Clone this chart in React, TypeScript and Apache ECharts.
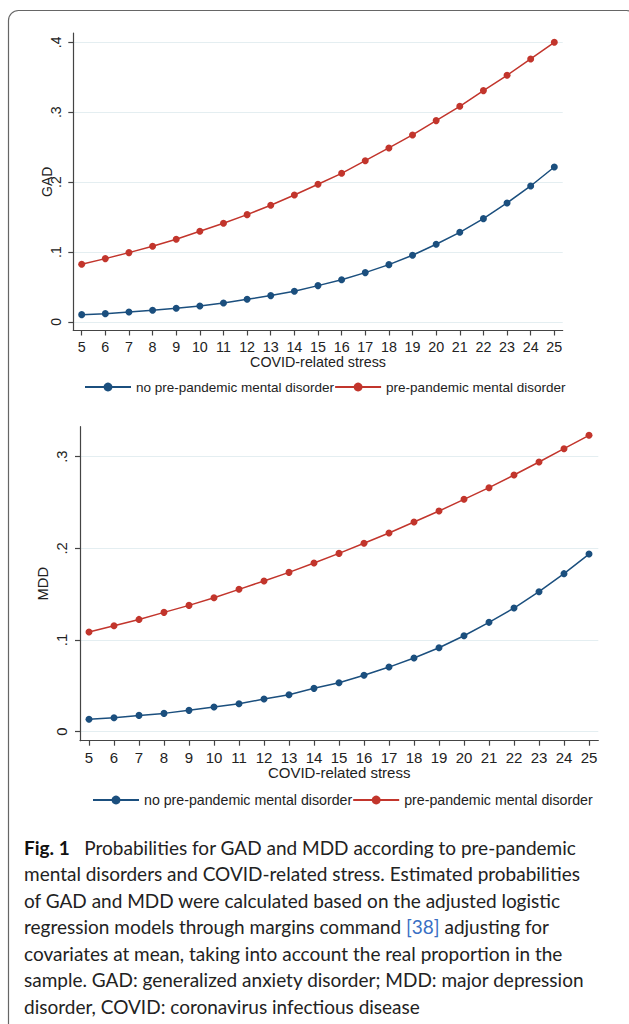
import React, { useEffect, useRef } from "react";
import * as echarts from "echarts";

const stress = [5, 6, 7, 8, 9, 10, 11, 12, 13, 14, 15, 16, 17, 18, 19, 20, 21, 22, 23, 24, 25];
const gadNo = [0.0105, 0.0119, 0.0143, 0.0167, 0.0195, 0.0229, 0.0272, 0.0324, 0.0377, 0.0439, 0.052, 0.0605, 0.0706, 0.082, 0.0954, 0.1111, 0.1282, 0.1478, 0.1702, 0.1945, 0.2217];
const gadPre = [0.0825, 0.0906, 0.0992, 0.1082, 0.1182, 0.1297, 0.1411, 0.1535, 0.1669, 0.1816, 0.1969, 0.2126, 0.2307, 0.2489, 0.2675, 0.288, 0.3085, 0.3309, 0.3528, 0.3762, 0.4];
const mddNo = [0.0135, 0.0153, 0.0178, 0.02, 0.0233, 0.0269, 0.0305, 0.0356, 0.0404, 0.0473, 0.0535, 0.0615, 0.0705, 0.0804, 0.0916, 0.1047, 0.1193, 0.1349, 0.1527, 0.1724, 0.1938];
const mddPre = [0.1087, 0.1156, 0.1225, 0.1302, 0.1378, 0.1462, 0.1553, 0.1644, 0.1738, 0.184, 0.1945, 0.2055, 0.2167, 0.2287, 0.2407, 0.2535, 0.2662, 0.28, 0.2942, 0.3087, 0.3233];
const gadTicks = [0, 0.1, 0.2, 0.3, 0.4];
const mddTicks = [0, 0.1, 0.2, 0.3];
const seriesNames = ["no pre-pandemic mental disorder", "pre-pandemic mental disorder"];
const xName = "COVID-related stress";
const captionLines = [
  "{b|Fig. 1}   Probabilities for GAD and MDD according to pre-pandemic",
  "mental disorders and COVID-related stress. Estimated probabilities",
  "of GAD and MDD were calculated based on the adjusted logistic",
  "regression models through margins command {l|[38]} adjusting for",
  "covariates at mean, taking into account the real proportion in the",
  "sample. GAD: generalized anxiety disorder; MDD: major depression",
  "disorder, COVID: coronavirus infectious disease",
];

const BLUE = "#1b4f7e";
const RED = "#c2352c";
const AXIS = "#444";
const GRID = "#e4eef1";
const FONT = "'Liberation Sans', Arial, sans-serif";
const CAP_FONT = "Lato, 'Open Sans', sans-serif";

const fmtY = (v: number) => (Math.abs(v) < 1e-9 ? "0" : String(+v.toFixed(1)).replace(/^0/, ""));

function App() {
  const ref = useRef<HTMLDivElement>(null);
  useEffect(() => {
    document.body.style.margin = "0";
    const chart = echarts.init(ref.current!, null, { renderer: "svg" });

    const xAxisBase = (idx: number, min: number, max: number, fs: number, gap: number) => ({
      type: "value",
      gridIndex: idx,
      min,
      max,
      name: xName,
      nameLocation: "middle",
      nameGap: gap,
      nameMoveOverlap: false,
      nameTextStyle: { fontSize: fs, fontFamily: FONT, color: "#222" },
      axisLine: { onZero: false, lineStyle: { color: AXIS, width: 1.2 } },
      axisTick: { show: true, length: 5, customValues: stress, lineStyle: { color: AXIS, width: 1.2 } },
      axisLabel: { customValues: stress, fontSize: fs, fontFamily: FONT, color: "#222", margin: 9 },
      splitLine: { show: false },
    });
    const yAxisBase = (idx: number, min: number, max: number, ticks: number[], fs: number, gap: number, margin: number) => ({
      type: "value",
      gridIndex: idx,
      min,
      max,
      name: idx === 0 ? "GAD" : "MDD",
      nameLocation: "middle",
      nameGap: gap,
      nameRotate: 90,
      nameMoveOverlap: false,
      nameTextStyle: { fontSize: fs, fontFamily: FONT, color: "#222" },
      axisLine: { show: true, onZero: false, lineStyle: { color: AXIS, width: 1.2 } },
      axisTick: { show: true, length: 5, customValues: ticks, lineStyle: { color: AXIS, width: 1.2 } },
      axisLabel: { customValues: ticks, rotate: 90, fontSize: fs, fontFamily: FONT, color: "#222", margin, formatter: fmtY },
      splitLine: { show: true, lineStyle: { color: GRID, width: 1 } },
    });

    const mkSeries = (name: string, vals: number[], color: string, idx: number) => ({
      type: "line",
      name,
      xAxisIndex: idx,
      yAxisIndex: idx,
      data: stress.map((x, i) => [x, vals[i]]),
      symbol: "circle",
      symbolSize: 7,
      showSymbol: true,
      lineStyle: { color, width: 1.5 },
      itemStyle: { color },
      emphasis: { disabled: true },
    });

    const legendBase = (left: number, top: number, fs: number, w: number) => ({
      data: seriesNames,
      left,
      top,
      padding: 0,
      itemGap: 0,
      itemWidth: w,
      itemHeight: 11,
      selectedMode: false,
      textStyle: { fontSize: fs, fontFamily: FONT, color: "#222" },
    });

    const captionGraphics = captionLines.map((t, i) => ({
      type: "text",
      x: 24,
      y: 847 + i * 26.5,
      style: {
        text: t,
        fontSize: 19,
        fontFamily: CAP_FONT,
        fill: "#222",
        verticalAlign: "middle",
        rich: {
          b: { fontSize: 19, fontFamily: CAP_FONT, fontWeight: "bold", fill: "#111" },
          l: { fontSize: 19, fontFamily: CAP_FONT, fill: "#3a6fc4" },
        },
      },
    }));

    chart.setOption({
      animation: false,
      backgroundColor: "#ffffff",
      grid: [
        { left: 73.3, top: 33, width: 489.4, height: 297.5 },
        { left: 80, top: 426.7, width: 518.3, height: 314 },
      ],
      xAxis: [xAxisBase(0, 4.645, 25.355, 14.3, 24), xAxisBase(1, 4.64, 25.372, 15, 24)],
      yAxis: [
        yAxisBase(0, -0.0122, 0.4133, gadTicks, 14, 19, 10),
        yAxisBase(1, -0.0098, 0.3327, mddTicks, 14.8, 30, 11),
      ],
      legend: [legendBase(84, 380, 13.5, 46), legendBase(92, 793, 14.2, 46)],
      series: [
        mkSeries(seriesNames[0], gadNo, BLUE, 0),
        mkSeries(seriesNames[1], gadPre, RED, 0),
        mkSeries(seriesNames[0], mddNo, BLUE, 1),
        mkSeries(seriesNames[1], mddPre, RED, 1),
      ],
      graphic: [
        {
          type: "rect",
          z: -10,
          shape: { x: 8.5, y: 10.5, width: 628, height: 1100, r: 10 },
          style: { fill: "none", stroke: "#666", lineWidth: 1.2 },
          silent: true,
        },
        ...captionGraphics,
      ],
    });
    return () => chart.dispose();
  }, []);
  return <div ref={ref} style={{ width: 629, height: 1024 }} />;
}

export default App;
